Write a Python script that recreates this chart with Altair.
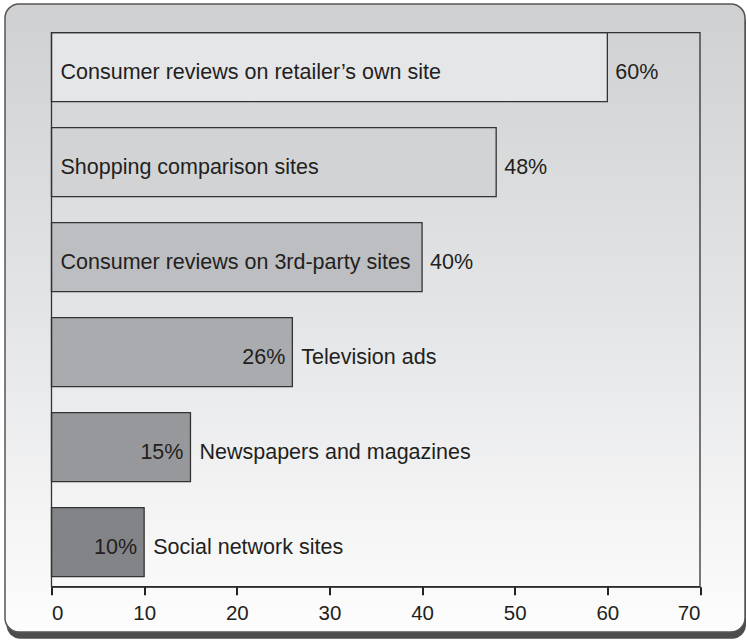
import altair as alt
import pandas as pd

categories = [
    "Consumer reviews on retailer’s own site",
    "Shopping comparison sites",
    "Consumer reviews on 3rd-party sites",
    "Television ads",
    "Newspapers and magazines",
    "Social network sites",
]
values = [60, 48, 40, 26, 15, 10]
tick_values = [0, 10, 20, 30, 40, 50, 60, 70]
bar_colors = ["#e5e6e8", "#d2d3d5", "#bdbec1", "#aaabae", "#97989b", "#838487"]

df = pd.DataFrame({"cat": categories, "value": values})
df["pct"] = [f"{v}%" for v in values]
df["zero"] = 0

W, H = 648.5, 554
FONT = "Liberation Sans"
TXT = "#231f20"
FS = 21.5

base = alt.Chart(df)

y_enc = alt.Y(
    "cat:N",
    sort=categories,
    axis=None,
    scale=alt.Scale(paddingInner=0.274, paddingOuter=0.053, align=0),
)
x_scale = alt.Scale(domain=[0, 70], nice=False, zero=True)

deco = alt.Chart(pd.DataFrame({"a": [0]}))

shadow = deco.mark_rect(cornerRadius=14, fill="#4d4d4d").encode(
    x=alt.value(-45), x2=alt.value(694.5), y=alt.value(-24), y2=alt.value(606)
)

grad = alt.Gradient(
    gradient="linear",
    stops=[
        alt.GradientStop(color="#cfd0d2", offset=0),
        alt.GradientStop(color="#e4e5e7", offset=0.5),
        alt.GradientStop(color="#fdfdfd", offset=1),
    ],
    x1=0, x2=0, y1=0, y2=1,
)
box = deco.mark_rect(cornerRadius=14, fill=grad, stroke="#555555", strokeWidth=1.5).encode(
    x=alt.value(-46.5), x2=alt.value(693.5), y=alt.value(-28.7), y2=alt.value(599.3)
)

bars = base.mark_bar(stroke="#333333", strokeWidth=1.3).encode(
    x=alt.X(
        "value:Q",
        scale=x_scale,
        axis=alt.Axis(
            values=tick_values,
            title=None,
            grid=False,
            domain=True,
            domainColor="#222222",
            domainWidth=1.3,
            tickColor="#222222",
            tickWidth=2,
            tickSize=8,
            labelFont=FONT,
            labelFontSize=20.5,
            labelColor=TXT,
            labelPadding=9,
            zindex=1,
        ),
    ),
    x2="zero:Q",
    y=y_enc,
    color=alt.Color("cat:N", scale=alt.Scale(domain=categories, range=bar_colors), legend=None),
)

frame = deco.mark_rect(fill=None, fillOpacity=0, stroke="#333333", strokeWidth=1.3).encode(
    x=alt.value(0), x2=alt.value(W), y=alt.value(0), y2=alt.value(H)
)

txt_kw = dict(font=FONT, fontSize=FS, color=TXT, baseline="alphabetic", dy=11.5)

name_in = base.transform_filter("datum.value >= 30").mark_text(align="left", dx=9, **txt_kw).encode(
    x=alt.X("zero:Q", scale=x_scale), y=y_enc, text="cat:N"
)
pct_out = base.transform_filter("datum.value >= 30").mark_text(align="left", dx=8, **txt_kw).encode(
    x=alt.X("value:Q", scale=x_scale), y=y_enc, text="pct:N"
)
pct_in = base.transform_filter("datum.value < 30").mark_text(align="right", dx=-7, **txt_kw).encode(
    x=alt.X("value:Q", scale=x_scale), y=y_enc, text="pct:N"
)
name_out = base.transform_filter("datum.value < 30").mark_text(align="left", dx=9, **txt_kw).encode(
    x=alt.X("value:Q", scale=x_scale), y=y_enc, text="cat:N"
)

chart = (
    alt.layer(shadow, box, bars, frame, name_in, pct_out, pct_in, name_out)
    .properties(
        width=W,
        height=H,
        autosize=alt.AutoSizeParams(type="none"),
        padding={"left": 51.5, "top": 32.7, "right": 47, "bottom": 56.3},
        background="white",
    )
    .configure_view(stroke=None, fill=None)
)

chart.save("out.html", embed_options={"renderer": "svg", "actions": False})
